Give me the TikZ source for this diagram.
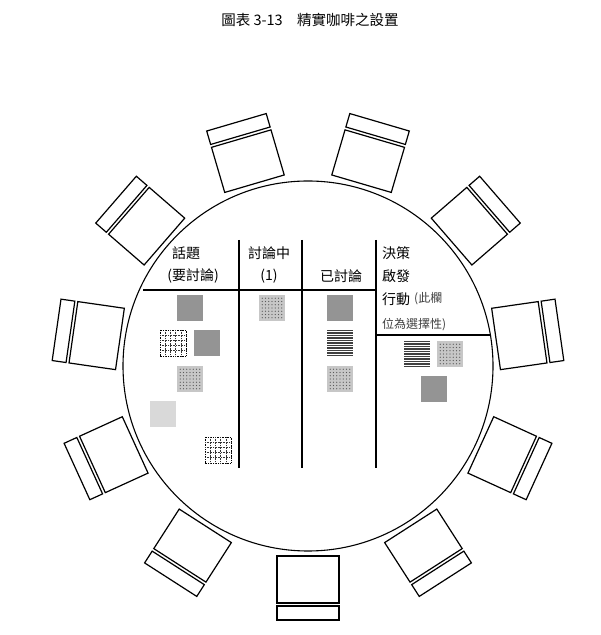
\documentclass[tikz,border=0pt]{standalone}
\usepackage{fontspec}
\setmainfont{Noto Sans CJK TC}
\begin{document}
\begin{tikzpicture}[x=1pt,y=1pt,
  ln/.style={line width=1.1pt},
  chairln/.style={line width=1.2pt},
  hd/.style={font=\fontsize{14}{16}\selectfont, inner sep=0pt},
  sm/.style={font=\fontsize{12}{14}\selectfont, text=black!75, inner sep=0pt}]
\useasboundingbox (0,0) rectangle (601,635);
\node[font=\fontsize{14.5}{16}\selectfont] (title) at (310,615) {圖表 3-13\quad 精實咖啡之設置};
\coordinate (c) at (308,269);
\draw[ln] (c) circle (185);
% chairs
\foreach \k in {0,...,10}{
  \pgfmathsetmacro{\a}{\k*360/11}
  \begin{scope}[shift={(c)}, rotate=\a+180]
    \draw[chairln] (-31,190) rectangle (31,237);
    \draw[chairln] (-31,240) rectangle (31,254);
  \end{scope}
}
% table lines
\draw[ln] (143,345) -- (376,345);
\draw[ln] (239,395) -- (239,167);
\draw[ln] (302,395) -- (302,167);
\draw[ln] (376,395) -- (376,167);
\draw[ln] (376,300) -- (490,300);
% headers
\node[hd] (h1) at (186,382) {話題};
\node[hd] (h1b) at (193,359) {(要討論)};
\node[hd] (h2) at (269,382) {討論中};
\node[hd] (h2b) at (269,359) {(1)};
\node[hd] (h3) at (341,359) {已討論};
\node[hd,anchor=west] (h4) at (382,382) {決策};
\node[hd,anchor=west] (h4b) at (382,359) {啟發};
\node[hd,anchor=west] (h4c) at (382,336) {行動};
\node[sm,anchor=west] (h4d) at (414,336) {(此欄};
\node[sm,anchor=west] (h4e) at (382,310) {位為選擇性)};
% square styles
\newcommand{\darksq}[2]{\fill[black!42] (#1,#2) rectangle ++(26,-26);}
\newcommand{\lightsq}[2]{\fill[black!15] (#1,#2) rectangle ++(26,-26);}
\newcommand{\dotsq}[2]{\fill[black!22] (#1,#2) rectangle ++(26,-26);
  \foreach \i in {1,...,7}{\foreach \j in {1,...,7}{\fill[black!65] ({#1+\i*3.25},{#2-\j*3.25}) circle (0.55);}}}
\newcommand{\gridsq}[2]{\draw[black, densely dotted, line width=0.7pt] (#1,#2) rectangle ++(26,-26);
  \foreach \i in {1,...,4}{\draw[black!80, densely dotted, line width=0.6pt] ({#1+\i*5.2},#2) -- ++(0,-26); \draw[black!80, densely dotted, line width=0.6pt] (#1,{#2-\i*5.2}) -- ++(26,0);}}
\newcommand{\linesq}[2]{\foreach \i in {0,...,10}{\fill[black!75] (#1,{#2-\i*2.5}) rectangle ++(26,-1.2);}}
% col1
\darksq{177}{340}
\gridsq{160}{305}
\darksq{194}{305}
\dotsq{177}{269}
\lightsq{150}{234}
\gridsq{205}{198}
% col2
\dotsq{259}{340}
% col3
\darksq{327}{340}
\linesq{327}{305}
\dotsq{327}{269}
% col4
\linesq{404}{294}
\dotsq{437}{294}
\darksq{421}{259}
\end{tikzpicture}
\end{document}
